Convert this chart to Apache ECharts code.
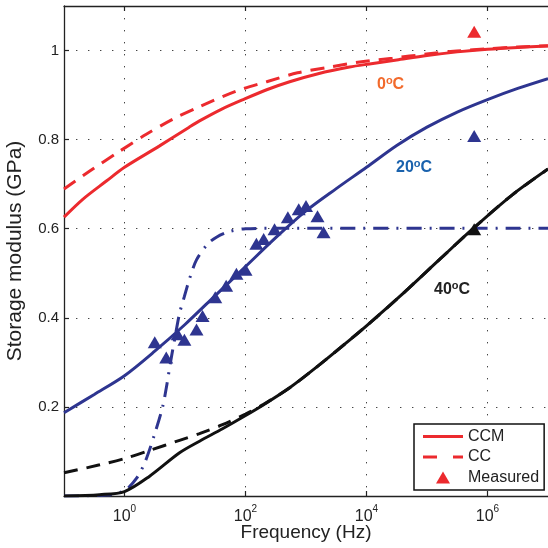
<!DOCTYPE html>
<html>
<head>
<meta charset="utf-8">
<script src="https://cdn.jsdelivr.net/npm/echarts@6/dist/echarts.min.js"></script>
<style>html,body{margin:0;padding:0;background:#fff}#c{width:548px;height:548px}</style>
</head>
<body>
<div id="c"></div>
<script>
// x values are log10(Frequency in Hz)
const xTicks = [0, 2, 4, 6];
const yTicks = [0.2, 0.4, 0.6, 0.8, 1];

const ccm0_x = [-1, -0.69, -0.3, 0, 0.58, 1.07, 1.24, 1.6, 1.98, 2.35, 2.73, 3.2, 3.72, 4.05, 4.5, 5, 5.5, 6, 6.5, 7];
const ccm0_y = [0.626, 0.666, 0.707, 0.738, 0.786, 0.828, 0.842, 0.868, 0.891, 0.912, 0.93, 0.948, 0.963, 0.970, 0.979, 0.989, 0.997, 1.003, 1.007, 1.01];

const cc0_x = [-1, -0.58, -0.08, 0.36, 0.8, 1.24, 1.85, 2.35, 2.86, 3.39, 3.92, 4.43, 4.99, 5.49, 6.03, 6.5, 7];
const cc0_y = [0.689, 0.729, 0.774, 0.812, 0.846, 0.874, 0.909, 0.93, 0.95, 0.963, 0.975, 0.983, 0.992, 0.999, 1.004, 1.008, 1.011];

const ccm20_x = [-1, -0.5, 0, 0.5, 1, 1.5, 2, 2.5, 3, 3.5, 4, 4.5, 5, 5.5, 6, 6.5, 7];
const ccm20_y = [0.187, 0.228, 0.27, 0.325, 0.385, 0.45, 0.515, 0.58, 0.64, 0.69, 0.738, 0.787, 0.828, 0.862, 0.89, 0.915, 0.937];

const dd20_x = [-1, -0.3, 0, 0.2, 0.35, 0.5, 0.63, 0.7, 0.76, 0.84, 0.91, 0.99, 1.08, 1.19, 1.37, 1.52, 1.74, 2.0, 2.5, 7];
const dd20_y = [0.0, 0.002, 0.012, 0.04, 0.08, 0.14, 0.2, 0.25, 0.3, 0.36, 0.41, 0.448, 0.49, 0.53, 0.565, 0.581, 0.594, 0.6, 0.601, 0.601];

const ccm40_x = [-1, -0.41, 0, 0.41, 0.91, 1.24, 1.62, 1.98, 2.3, 2.73, 3.2, 3.72, 4, 4.55, 5.2, 5.75, 6.4, 7];
const ccm40_y = [0.0, 0.003, 0.01, 0.044, 0.097, 0.123, 0.151, 0.179, 0.205, 0.243, 0.292, 0.35, 0.382, 0.448, 0.53, 0.599, 0.675, 0.734];

const cc40_x = [-1, -0.41, 0, 0.41, 0.91, 1.24, 1.62, 2.0, 2.3, 2.73, 3.2, 3.72, 4, 4.55, 5.2, 5.75, 6.4, 7];
const cc40_y = [0.052, 0.07, 0.084, 0.102, 0.125, 0.14, 0.16, 0.184, 0.206, 0.243, 0.292, 0.35, 0.382, 0.448, 0.53, 0.599, 0.675, 0.734];

const meas20_x = [0.50, 0.69, 0.88, 0.99, 1.19, 1.29, 1.50, 1.68, 1.85, 2.0, 2.18, 2.30, 2.48, 2.70, 2.88, 3.0, 3.19, 3.29, 5.78];
const meas20_y = [0.345, 0.311, 0.363, 0.351, 0.374, 0.404, 0.446, 0.472, 0.499, 0.508, 0.566, 0.577, 0.599, 0.626, 0.644, 0.651, 0.628, 0.592, 0.808];
const meas0_x = [5.78];
const meas0_y = [1.042];
const meas40_x = [5.78];
const meas40_y = [0.599];

const zip = (xs, ys) => xs.map((x, i) => [x, ys[i]]);

const FONT = 'Liberation Sans, Arial, Helvetica, sans-serif';
const RED = '#ec2a2e', BLUE = '#2e3590', BLACK = '#111111';
const gridLine = { show: true, lineStyle: { color: '#444', width: 1, type: [1.4, 10.6] } };

function lineSeries(name, xs, ys, color, type) {
  return {
    name, type: 'line', data: zip(xs, ys), showSymbol: false, symbol: 'none',
    smooth: 0.3, silent: true,
    lineStyle: { color, width: 3, type }, itemStyle: { color }, z: 3
  };
}
function measSeries(name, xs, ys, color) {
  return {
    name, type: 'scatter', data: zip(xs, ys), symbol: 'triangle', symbolSize: [14, 12],
    itemStyle: { color, opacity: 1 }, z: 5, silent: true
  };
}

const chart = echarts.init(document.getElementById('c'), null, { renderer: 'canvas' });
chart.setOption({
  animation: false,
  backgroundColor: '#fff',
  grid: { left: 64, top: 6, right: 0, bottom: 52, containLabel: false, outerBoundsMode: 'none' },
  xAxis: [{
    type: 'value', min: -1, max: 7, position: 'bottom',
    name: 'Frequency (Hz)', nameLocation: 'middle', nameGap: 27, nameMoveOverlap: false,
    nameTextStyle: { fontFamily: FONT, fontSize: 19, color: '#222' },
    axisLine: { show: true, onZero: false, lineStyle: { color: '#222', width: 1.3 } },
    axisTick: { show: true, inside: true, length: 5, customValues: xTicks, lineStyle: { color: '#222', width: 1.2 } },
    axisLabel: {
      customValues: xTicks, margin: 8,
      formatter: v => '{b|10}{s|' + v + '}',
      rich: {
        b: { fontFamily: FONT, fontSize: 16, color: '#222', lineHeight: 26 },
        s: { fontFamily: FONT, fontSize: 10, color: '#222', lineHeight: 10, verticalAlign: 'top' }
      }
    },
    splitLine: gridLine
  }, {
    type: 'value', min: -1, max: 7, position: 'top',
    axisLine: { show: true, onZero: false, lineStyle: { color: '#222', width: 1.3 } },
    axisTick: { show: true, inside: true, length: 5, customValues: xTicks, lineStyle: { color: '#222', width: 1.2 } },
    axisLabel: { show: false }, splitLine: { show: false }
  }],
  yAxis: [{
    type: 'value', min: 0, max: 1.1, position: 'left',
    name: 'Storage modulus (GPa)', nameLocation: 'middle', nameGap: 38, nameMoveOverlap: false,
    nameTextStyle: { fontFamily: FONT, fontSize: 21, color: '#222' },
    axisLine: { show: true, onZero: false, lineStyle: { color: '#222', width: 1.3 } },
    axisTick: { show: true, inside: true, length: 5, customValues: yTicks, lineStyle: { color: '#222', width: 1.2 } },
    axisLabel: {
      customValues: yTicks, margin: 5, fontFamily: FONT, fontSize: 15, color: '#222',
      formatter: v => (Math.abs(v - 1) < 1e-9 ? '1' : v.toFixed(1))
    },
    splitLine: gridLine
  }],
  legend: {
    orient: 'vertical', left: 414, top: 424,
    data: [
      { name: 'CCM', icon: 'path://M0,0H40V3H0Z' },
      { name: 'CC', icon: 'path://M0,0H14V3H0Z M30,0H40V3H30Z' },
      { name: 'Measured', icon: 'path://M7,0L14,12H0Z' }
    ],
    symbolKeepAspect: true,
    itemWidth: 40, itemHeight: 12, itemGap: 4.5,
    padding: [4.5, 5, 4.5, 9],
    borderColor: '#111', borderWidth: 1.5, backgroundColor: '#fff',
    textStyle: { fontFamily: FONT, fontSize: 16, color: '#222' },
    selectedMode: false
  },
  series: [
    lineSeries('CCM', ccm0_x, ccm0_y, RED, 'solid'),
    lineSeries('CC', cc0_x, cc0_y, RED, [14, 9]),
    lineSeries('ccm20', ccm20_x, ccm20_y, BLUE, 'solid'),
    lineSeries('fit20', dd20_x, dd20_y, BLUE, [15, 8, 2, 8]),
    lineSeries('cc40', cc40_x, cc40_y, BLACK, [14, 9]),
    lineSeries('ccm40', ccm40_x, ccm40_y, BLACK, 'solid'),
    measSeries('Measured', meas0_x, meas0_y, RED),
    measSeries('m20', meas20_x, meas20_y, BLUE),
    measSeries('m40', meas40_x, meas40_y, BLACK)
  ],
  graphic: [
    { type: 'text', left: 377, top: 75, z: 10, style: { text: '{a|0}{o|o}{a|C}', rich: {
      a: { fontFamily: FONT, fontSize: 16, fontWeight: 'bold', fill: '#f26a2c', lineHeight: 20 },
      o: { fontFamily: FONT, fontSize: 11, fontWeight: 'bold', fill: '#f26a2c', lineHeight: 10, verticalAlign: 'top' } } } },
    { type: 'text', left: 396, top: 158, z: 10, style: { text: '{a|20}{o|o}{a|C}', rich: {
      a: { fontFamily: FONT, fontSize: 16, fontWeight: 'bold', fill: '#1a62ad', lineHeight: 20 },
      o: { fontFamily: FONT, fontSize: 11, fontWeight: 'bold', fill: '#1a62ad', lineHeight: 10, verticalAlign: 'top' } } } },
    { type: 'text', left: 434, top: 280, z: 10, style: { text: '{a|40}{o|o}{a|C}', rich: {
      a: { fontFamily: FONT, fontSize: 16, fontWeight: 'bold', fill: '#222', lineHeight: 20 },
      o: { fontFamily: FONT, fontSize: 11, fontWeight: 'bold', fill: '#222', lineHeight: 10, verticalAlign: 'top' } } } }
  ]
});
</script>
</body>
</html>
